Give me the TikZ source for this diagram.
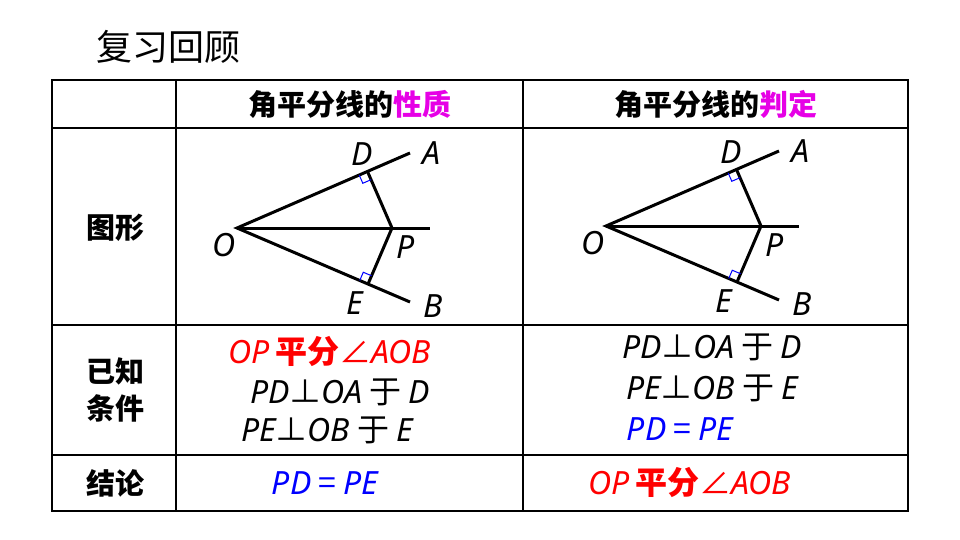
\documentclass[tikz,border=0pt]{standalone}
\usepackage{fontspec}
\setmainfont{Noto Sans CJK SC}
\newfontfamily\lat{Noto Sans}
\usetikzlibrary{calc}
\definecolor{mag}{RGB}{230,0,230}
\newcommand{\vi}[1]{{\lat\itshape #1}}
\begin{document}
\begin{tikzpicture}[x=1pt,y=-1pt,
  seg/.style={line width=3pt},
  rmark/.style={blue,line width=1pt},
  lbl/.style={font=\fontsize{32}{32}\selectfont\lat\itshape,inner sep=0},
  txt/.style={font=\fontsize{32}{32}\selectfont,inner sep=0},
  hdr/.style={font=\fontsize{29}{30}\selectfont\bfseries,inner sep=0}]
\useasboundingbox (0,0) rectangle (960,540);
\node[inner sep=0,font=\fontsize{36}{36}\selectfont] (title) at (168,47) {复习回顾};
% table
\draw[line width=2.5pt] (52,80) rectangle (908,511);
\draw[line width=1.3pt] (176,80) -- (176,511) (523,80) -- (523,511);
\draw[line width=1.3pt] (52,128) -- (908,128) (52,325) -- (908,325) (52,455) -- (908,455);
\node[hdr] (h1) at (350,104) {角平分线的\textcolor{mag}{性质}};
\node[hdr] (h2) at (716,104) {角平分线的\textcolor{mag}{判定}};
\node[hdr] (r1) at (115,228) {图形};
\node[hdr,align=center,font=\fontsize{29}{37}\selectfont\bfseries] (r2) at (115,390) {已知\\条件};
\node[hdr] (r3) at (115,483) {结论};
% diagrams
\foreach \dx/\dy/\s in {0/0/L,369/-2/R}{
\begin{scope}[shift={(\dx,\dy)}]
\coordinate (O\s) at (237,228);
\coordinate (A\s) at (410,153);
\coordinate (B\s) at (410,302);
\coordinate (P\s) at (392,228);
\coordinate (X\s) at (430,228);
\coordinate (D\s) at ($(O\s)!(P\s)!(A\s)$);
\coordinate (E\s) at ($(O\s)!(P\s)!(B\s)$);
\draw[seg] (A\s) -- (O\s) -- (B\s);
\draw[seg] (O\s) -- (X\s);
\draw[seg] (D\s) -- (P\s) -- (E\s);
\draw[rmark] ($(D\s)!9pt!(O\s)$) -- ($(D\s)!9pt!(O\s)+(D\s)!9pt!(P\s)-(D\s)$) -- ($(D\s)!9pt!(P\s)$);
\draw[rmark] ($(E\s)!9pt!(O\s)$) -- ($(E\s)!9pt!(O\s)+(E\s)!9pt!(P\s)-(E\s)$) -- ($(E\s)!9pt!(P\s)$);
\node[lbl] (lD\s) at (362,154) {D};
\node[lbl] (lA\s) at (431,153) {A};
\node[lbl] (lO\s) at (224,245) {O};
\node[lbl] (lP\s) at (406,247) {P};
\node[lbl] (lE\s) at (355,303) {E};
\node[lbl] (lB\s) at (433,306) {B};
\end{scope}}
% conditions
\node[txt,red] (c1) at (330,351) {\vi{OP}\,\textbf{平分}∠\vi{AOB}};
\node[txt] (c2) at (340,392) {\vi{PD}⊥\vi{OA} 于 \vi{D}};
\node[txt] (c3) at (327,430) {\vi{PE}⊥\vi{OB} 于 \vi{E}};
\node[txt,blue] (c4) at (325,483) {\vi{PD} = \vi{PE}};
\node[txt] (d1) at (712,347) {\vi{PD}⊥\vi{OA} 于 \vi{D}};
\node[txt] (d2) at (712,388) {\vi{PE}⊥\vi{OB} 于 \vi{E}};
\node[txt,blue] (d3) at (680,429) {\vi{PD} = \vi{PE}};
\node[txt,red] (d4) at (690,482) {\vi{OP}\,\textbf{平分}∠\vi{AOB}};
\end{tikzpicture}
\end{document}
